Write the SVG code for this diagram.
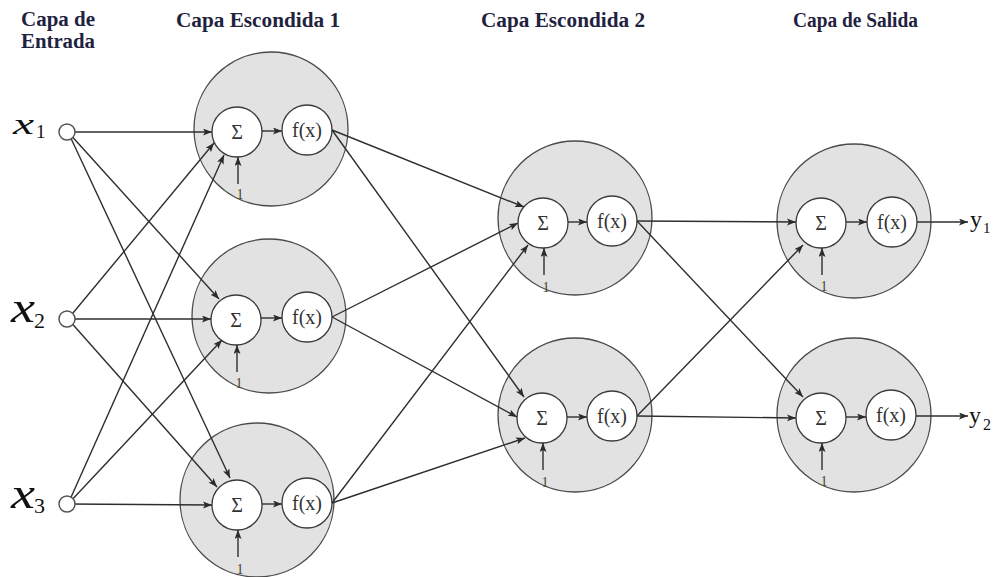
<svg xmlns="http://www.w3.org/2000/svg" width="1000" height="577" viewBox="0 0 1000 577">
<defs>
<marker id="ah" markerUnits="userSpaceOnUse" markerWidth="10" markerHeight="8" refX="9" refY="3.5" orient="auto">
<path d="M0,0 L9,3.5 L0,7 L2,3.5 z" fill="#2b2b2b"/>
</marker>
</defs>
<style>
.big{fill:#e2e2e2;stroke:#4a4a4a;stroke-width:1.3}
.sub{fill:#fff;stroke:#3a3a3a;stroke-width:1.3}
.inp{fill:#fff;stroke:#555;stroke-width:1.5}
.ln{stroke:#2e2e2e;stroke-width:1.4;fill:none;marker-end:url(#ah)}
.sig{font-family:"Liberation Serif",serif;font-size:20px;fill:#333;text-anchor:middle}
.fx{font-family:"Liberation Serif",serif;font-size:20px;fill:#333;text-anchor:middle}
.one{font-family:"Liberation Serif",serif;font-size:14px;fill:#4a3f2a;text-anchor:middle}
.hd{font-family:"Liberation Serif",serif;font-size:20px;font-weight:bold;fill:#1f2340}
.xv{font-family:"Liberation Serif",serif;font-style:italic;fill:#111}
.xs{font-family:"Liberation Serif",serif;fill:#111}
.yv{font-family:"Liberation Serif",serif;fill:#111}
</style>
<rect width="1000" height="577" fill="#fff"/>

<g id="headings">
<text class="hd" x="21" y="26" textLength="74" lengthAdjust="spacingAndGlyphs">Capa de</text>
<text class="hd" x="21" y="48" textLength="74" lengthAdjust="spacingAndGlyphs">Entrada</text>
<text class="hd" x="176" y="27" textLength="164" lengthAdjust="spacingAndGlyphs">Capa Escondida 1</text>
<text class="hd" x="481" y="27" textLength="164" lengthAdjust="spacingAndGlyphs">Capa Escondida 2</text>
<text class="hd" x="793" y="27" textLength="125" lengthAdjust="spacingAndGlyphs">Capa de Salida</text>
</g>

<g id="h1n1">
<circle class="big" cx="271" cy="129" r="77"/>
<circle class="sub" cx="237" cy="132" r="25"/>
<text class="sig" x="237" y="139">Σ</text>
<circle class="sub" cx="307" cy="130" r="25"/>
<text class="fx" x="307" y="137">f(x)</text>
<path class="ln" d="M262,131 L282,131"/>
<path class="ln" d="M238,184 L238,157"/>
<text class="one" x="240" y="199">1</text>
</g>
<g id="h1n2">
<circle class="big" cx="269" cy="316" r="77"/>
<circle class="sub" cx="236" cy="320" r="25"/>
<text class="sig" x="236" y="327">Σ</text>
<circle class="sub" cx="307" cy="317" r="25"/>
<text class="fx" x="307" y="324">f(x)</text>
<path class="ln" d="M261,318 L282,318"/>
<path class="ln" d="M237,372 L237,345"/>
<text class="one" x="239" y="388">1</text>
</g>
<g id="h1n3">
<circle class="big" cx="257" cy="500" r="77"/>
<circle class="sub" cx="237" cy="505" r="25"/>
<text class="sig" x="237" y="512">Σ</text>
<circle class="sub" cx="307" cy="503" r="25"/>
<text class="fx" x="307" y="510">f(x)</text>
<path class="ln" d="M262,504 L282,504"/>
<path class="ln" d="M238,557 L238,530"/>
<text class="one" x="240" y="574">1</text>
</g>
<g id="h2n1">
<circle class="big" cx="575" cy="218" r="77"/>
<circle class="sub" cx="543" cy="223" r="25"/>
<text class="sig" x="543" y="230">Σ</text>
<circle class="sub" cx="612" cy="221" r="25"/>
<text class="fx" x="612" y="228">f(x)</text>
<path class="ln" d="M568,222 L587,222"/>
<path class="ln" d="M544,275 L544,248"/>
<text class="one" x="546" y="292">1</text>
</g>
<g id="h2n2">
<circle class="big" cx="575" cy="415" r="77"/>
<circle class="sub" cx="542" cy="418" r="25"/>
<text class="sig" x="542" y="425">Σ</text>
<circle class="sub" cx="612" cy="416" r="25"/>
<text class="fx" x="612" y="423">f(x)</text>
<path class="ln" d="M567,417 L587,417"/>
<path class="ln" d="M543,470 L543,443"/>
<text class="one" x="545" y="487">1</text>
</g>
<g id="o1">
<circle class="big" cx="854" cy="221" r="77"/>
<circle class="sub" cx="821" cy="223" r="25"/>
<text class="sig" x="821" y="230">Σ</text>
<circle class="sub" cx="892" cy="222" r="25"/>
<text class="fx" x="892" y="229">f(x)</text>
<path class="ln" d="M846,222 L867,222"/>
<path class="ln" d="M822,275 L822,248"/>
<text class="one" x="824" y="291">1</text>
</g>
<g id="o2">
<circle class="big" cx="854" cy="415" r="77"/>
<circle class="sub" cx="821" cy="418" r="25"/>
<text class="sig" x="821" y="425">Σ</text>
<circle class="sub" cx="891" cy="415" r="25"/>
<text class="fx" x="891" y="422">f(x)</text>
<path class="ln" d="M846,417 L866,417"/>
<path class="ln" d="M822,470 L822,443"/>
<text class="one" x="824" y="486">1</text>
</g>

<g id="connectors">
<path class="ln" d="M68,132 L212,132"/>
<path class="ln" d="M68,132 L219,299"/>
<path class="ln" d="M68,132 L230,478"/>
<path class="ln" d="M68,319 L214,143"/>
<path class="ln" d="M68,319 L211,319"/>
<path class="ln" d="M68,319 L217,487"/>
<path class="ln" d="M68,504 L224,155"/>
<path class="ln" d="M68,504 L222,340"/>
<path class="ln" d="M68,504 L212,505"/>

<path class="ln" d="M332,130 L524,207"/>
<path class="ln" d="M332,317 L518,223"/>
<path class="ln" d="M332,503 L528,245"/>
<path class="ln" d="M332,130 L524,397"/>
<path class="ln" d="M332,317 L517,417"/>
<path class="ln" d="M332,503 L525,438"/>

<path class="ln" d="M637,221 L796,222"/>
<path class="ln" d="M637,221 L803,397"/>
<path class="ln" d="M637,416 L803,245"/>
<path class="ln" d="M637,416 L796,418"/>

<path class="ln" d="M917,222 L968,222"/>
<path class="ln" d="M916,416 L968,416"/>
</g>

<g id="x1">
<circle class="inp" cx="67" cy="132" r="8"/>
<text class="xv" x="13" y="134" font-size="30" textLength="21" lengthAdjust="spacingAndGlyphs">x</text>
<text class="xs" x="36" y="138" font-size="19">1</text>
</g>
<g id="x2">
<circle class="inp" cx="67" cy="319" r="8"/>
<text class="xv" x="11" y="322" font-size="44" textLength="24" lengthAdjust="spacingAndGlyphs">x</text>
<text class="xs" x="34" y="328" font-size="22">2</text>
</g>
<g id="x3">
<circle class="inp" cx="67" cy="504" r="8"/>
<text class="xv" x="11" y="508" font-size="44" textLength="24" lengthAdjust="spacingAndGlyphs">x</text>
<text class="xs" x="34" y="513" font-size="22">3</text>
</g>
<g id="y1">
<text class="yv" x="970" y="227" font-size="24">y</text>
<text class="yv" x="983" y="233" font-size="15">1</text>
</g>
<g id="y2">
<text class="yv" x="969" y="423" font-size="24">y</text>
<text class="yv" x="983" y="430" font-size="16">2</text>
</g>
</svg>
